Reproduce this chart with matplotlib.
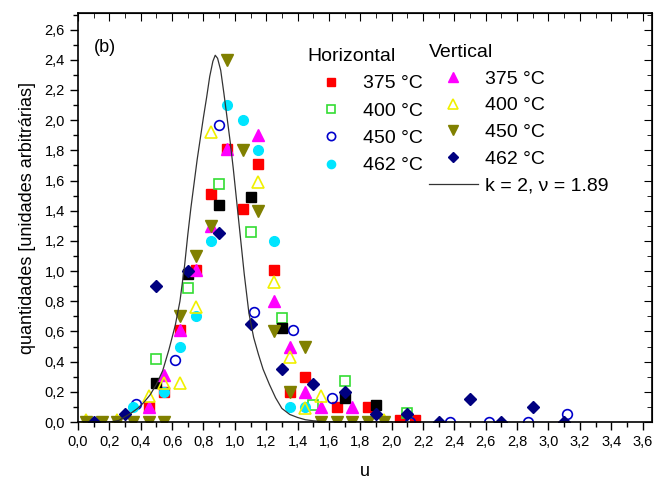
import numpy as np
import matplotlib
matplotlib.use('Agg')
import matplotlib.pyplot as plt
from matplotlib.ticker import MultipleLocator, FuncFormatter

plt.rcParams['font.family'] = ['Liberation Sans', 'DejaVu Sans']

# dados (u, quantidade)
# horizontal
h375_u = [0.45, 0.55, 0.65, 0.75, 0.85, 0.95, 1.05, 1.15, 1.25, 1.35, 1.45, 1.65, 1.85, 2.05, 2.15]
h375_q = [0.10, 0.20, 0.61, 1.01, 1.51, 1.81, 1.41, 1.71, 1.01, 0.20, 0.30, 0.10, 0.10, 0.01, 0.01]
h400_u = [0.5, 0.7, 0.9, 1.1, 1.3, 1.5, 1.7, 2.1]
h400_q = [0.42, 0.89, 1.58, 1.26, 0.69, 0.11, 0.27, 0.06]
h450_u = [0.37, 0.62, 0.90, 1.12, 1.37, 1.62, 2.12, 2.37, 2.62, 2.87, 3.12]
h450_q = [0.12, 0.41, 1.97, 0.73, 0.61, 0.16, 0.00, 0.00, 0.00, 0.00, 0.05]
h462_u = [0.35, 0.55, 0.65, 0.75, 0.85, 0.95, 1.05, 1.15, 1.25, 1.35, 1.45]
h462_q = [0.10, 0.20, 0.50, 0.70, 1.20, 2.10, 2.00, 1.80, 1.20, 0.10, 0.10]
# quadrados pretos (sem legenda)
preto_u = [0.5, 0.7, 0.9, 1.1, 1.3, 1.7, 1.9]
preto_q = [0.26, 0.98, 1.44, 1.49, 0.62, 0.16, 0.11]
# vertical
v375_u = [0.45, 0.55, 0.65, 0.75, 0.85, 0.95, 1.15, 1.25, 1.35, 1.45, 1.55, 1.75]
v375_q = [0.10, 0.31, 0.61, 1.01, 1.30, 1.81, 1.90, 0.80, 0.50, 0.20, 0.10, 0.10]
v400_u = [0.05, 0.25, 0.45, 0.55, 0.65, 0.75, 0.85, 1.15, 1.25, 1.35, 1.45, 1.55, 1.95]
v400_q = [0.01, 0.01, 0.17, 0.26, 0.26, 0.76, 1.92, 1.59, 0.93, 0.43, 0.09, 0.17, 0.01]
v450_u = [0.05, 0.15, 0.25, 0.35, 0.45, 0.55, 0.65, 0.75, 0.85, 0.95, 1.05, 1.15, 1.25, 1.35, 1.45,
          1.55, 1.65, 1.75, 1.85, 1.95]
v450_q = [0.0, 0.0, 0.0, 0.0, 0.0, 0.0, 0.70, 1.10, 1.30, 2.40, 1.80, 1.40, 0.60, 0.20, 0.50,
          0.0, 0.0, 0.0, 0.0, 0.0]
v462_u = [0.1, 0.3, 0.5, 0.7, 0.9, 1.1, 1.3, 1.5, 1.7, 1.9, 2.1, 2.3, 2.5, 2.7, 2.9, 3.1]
v462_q = [0.0, 0.05, 0.90, 1.00, 1.25, 0.65, 0.35, 0.25, 0.20, 0.05, 0.05, 0.0, 0.15, 0.0, 0.10, 0.0]
# curva teorica k = 2, nu = 1.89
curva_u = [0.0, 0.20, 0.26, 0.30, 0.34, 0.38, 0.42, 0.46, 0.50, 0.54, 0.58, 0.62, 0.65, 0.68, 0.70,
           0.72, 0.74, 0.76, 0.78, 0.80, 0.82, 0.84, 0.86, 0.875, 0.89, 0.91, 0.93, 0.95, 0.97,
           0.99, 1.01, 1.03, 1.06, 1.09, 1.12, 1.15, 1.18, 1.22, 1.26, 1.30, 1.35, 1.40, 1.45,
           1.50, 1.60, 2.00]
curva_q = [0.0, 0.0, 0.01, 0.035, 0.06, 0.09, 0.13, 0.18, 0.25, 0.34, 0.48, 0.64, 0.80, 1.04, 1.24,
           1.42, 1.58, 1.74, 1.88, 2.02, 2.15, 2.29, 2.39, 2.43, 2.41, 2.33, 2.18, 2.02, 1.86,
           1.68, 1.48, 1.28, 0.98, 0.72, 0.56, 0.45, 0.35, 0.25, 0.16, 0.09, 0.05, 0.03, 0.015,
           0.008, 0.0, 0.0]

fig = plt.figure(figsize=(6.54, 4.84), dpi=100)
ax = fig.add_axes([78/654, 62/484, 574/654, 409/484])

ms = 6.5
h1, = ax.plot(h375_u, h375_q, ls='none', marker='s', ms=ms, color='#ff0000', mec='#ff0000', label='375 °C')
h2, = ax.plot(h400_u, h400_q, ls='none', marker='s', ms=ms, mfc='none', mec='#33dd33', mew=1.2, label='400 °C')
h3, = ax.plot(h450_u, h450_q, ls='none', marker='o', ms=7, mfc='none', mec='#0000cc', mew=1.2, label='450 °C')
h4, = ax.plot(h462_u, h462_q, ls='none', marker='o', ms=7, color='#00e5ff', label='462 °C')
ax.plot(preto_u, preto_q, ls='none', marker='s', ms=ms, color='black')
v1, = ax.plot(v375_u, v375_q, ls='none', marker='^', ms=8, color='#ff00ff', label='375 °C')
v2, = ax.plot(v400_u, v400_q, ls='none', marker='^', ms=8, mfc='none', mec='#f0f000', mew=1.2, label='400 °C')
v3, = ax.plot(v450_u, v450_q, ls='none', marker='v', ms=8, color='#808000', label='450 °C')
v4, = ax.plot(v462_u, v462_q, ls='none', marker='D', ms=6.5, color='#000080', label='462 °C')
cl, = ax.plot(curva_u, curva_q, color='#333333', lw=0.9, label='k = 2, \u03bd = 1.89')

ax.set_xlim(0, 3.66)
ax.set_ylim(0, 2.71)
ax.xaxis.set_major_locator(MultipleLocator(0.2))
ax.xaxis.set_minor_locator(MultipleLocator(0.1))
ax.yaxis.set_major_locator(MultipleLocator(0.2))
ax.yaxis.set_minor_locator(MultipleLocator(0.1))
virgula = FuncFormatter(lambda v, p: ('%.1f' % v).replace('.', ','))
ax.xaxis.set_major_formatter(virgula)
ax.yaxis.set_major_formatter(virgula)
ax.tick_params(which='both', direction='out', labelsize=10.5, width=1)
ax.tick_params(which='major', length=6)
ax.tick_params(which='minor', length=3.5)
for s in ax.spines.values():
    s.set_linewidth(1.2)

# ticks internos no topo e a direita
ax2 = ax.secondary_xaxis('top')
ax2.xaxis.set_major_locator(MultipleLocator(0.2))
ax2.xaxis.set_minor_locator(MultipleLocator(0.1))
ax2.tick_params(which='both', direction='in', labeltop=False)
ax2.tick_params(which='major', length=6)
ax2.tick_params(which='minor', length=3.5)
ax3 = ax.secondary_yaxis('right')
ax3.yaxis.set_major_locator(MultipleLocator(0.2))
ax3.yaxis.set_minor_locator(MultipleLocator(0.1))
ax3.tick_params(which='both', direction='in', labelright=False)
ax3.tick_params(which='major', length=6)
ax3.tick_params(which='minor', length=3.5)

ax.set_xlabel('u', fontsize=13, labelpad=10)
ax.set_ylabel('quantidades [unidades arbitrárias]', fontsize=13, labelpad=6)
ax.text(0.028, 0.905, '(b)', transform=ax.transAxes, fontsize=13)

leg_kw = dict(loc='upper left', bbox_transform=fig.transFigure, frameon=False,
              fontsize=14, title_fontsize=14, handlelength=2.5, handletextpad=0.38,
              borderpad=0, borderaxespad=0, alignment='left',
              numpoints=1, markerscale=0.85)
leg1 = ax.legend(handles=[h1, h2, h3, h4], title='Horizontal', labelspacing=0.5,
                 bbox_to_anchor=(307/654, 1 - 48/484), **leg_kw)
ax.add_artist(leg1)
leg2 = ax.legend(handles=[v1, v2, v3, v4, cl], title='Vertical', labelspacing=0.47,
                 bbox_to_anchor=(429/654, 1 - 44/484), **leg_kw)

fig.savefig('out.png', dpi=100)
